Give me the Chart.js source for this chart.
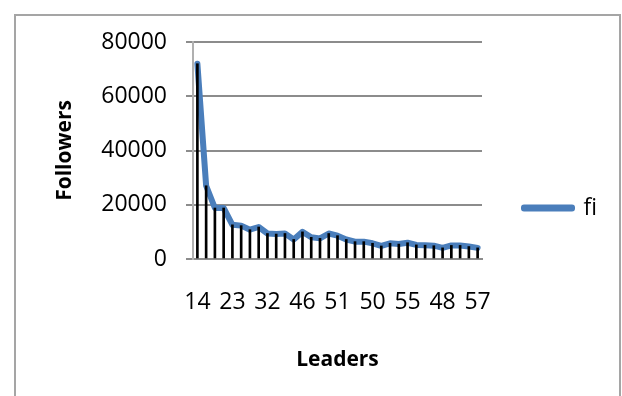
<!DOCTYPE html>
<html>
<head>
<meta charset="utf-8">
<script src="https://cdn.jsdelivr.net/npm/chart.js@4/dist/chart.umd.min.js"></script>
<style>
  html, body { margin: 0; padding: 0; background: #ffffff; }
  #wrap { position: relative; width: 622px; height: 396px; overflow: hidden; background: #ffffff; }
  #frame { position: absolute; left: 14px; top: 14px; width: 603px; height: 420px; border: 2px solid #a5a5a5; box-sizing: content-box; }
  #c { position: absolute; left: 0; top: 0; }
</style>
</head>
<body>
<div id="wrap">
  <div id="frame"></div>
  <canvas id="c" width="622" height="396"></canvas>
</div>
<script>
// Leader ids along the x axis (every fourth one is printed)
const leaders = [14, 9, 3, 27, 23, 19, 40, 12, 32, 5, 38, 21, 46, 30, 8, 44, 51, 17, 35, 26,
                 50, 42, 11, 33, 55, 29, 47, 6, 48, 39, 53, 24, 57];

// Follower count per leader (series "fi")
const fi = [72000, 27000, 18800, 18800, 12600, 12300, 10800, 11800, 9400, 9200,
            9400, 7200, 10000, 8000, 7600, 9400, 8600, 7200, 6400, 6400,
            5800, 4800, 5800, 5500, 6000, 5200, 5100, 4900, 4100, 5000,
            5000, 4600, 4100];

const yTicks = [0, 20000, 40000, 60000, 80000];

const seriesName = 'fi';
const xTitle = 'Leaders';
const yTitle = 'Followers';

const FONT = "'Open Sans', 'DejaVu Sans', sans-serif";
const BLUE = '#4a7ebb';
const GRID = '#8c8c8c';

// Fixed legend column on the right
const legendWidthPlugin = {
  id: 'legendWidth',
  beforeUpdate(chart) {
    const lg = chart.legend;
    if (lg && !lg._fixedWidth) {
      const fit = lg.fit;
      lg.fit = function () {
        fit.call(this);
        this.width = 140;
      };
      lg._fixedWidth = true;
    }
  }
};

new Chart(document.getElementById('c'), {
  data: {
    labels: leaders,
    datasets: [
      {
        type: 'bar',
        label: 'drop',
        data: fi,
        backgroundColor: '#000000',
        barThickness: 2,
        order: 0
      },
      {
        type: 'line',
        label: seriesName,
        data: fi,
        borderColor: BLUE,
        backgroundColor: BLUE,
        borderWidth: 6,
        borderCapStyle: 'round',
        borderJoinStyle: 'round',
        pointRadius: 0,
        tension: 0,
        fill: false,
        order: 1
      }
    ]
  },
  options: {
    responsive: false,
    animation: false,
    layout: { padding: { left: 0, right: 0, top: 42, bottom: 22 } },
    plugins: {
      tooltip: { enabled: false },
      legend: {
        position: 'right',
        labels: {
          filter: (item) => item.text === seriesName,
          boxWidth: 48,
          boxHeight: 1,
          padding: 42,
          color: '#000000',
          font: { family: FONT, size: 23 }
        }
      }
    },
    scales: {
      x: {
        type: 'category',
        offset: true,
        grid: { display: false },
        border: { display: true, color: GRID, width: 2 },
        ticks: {
          autoSkip: false,
          maxRotation: 0,
          minRotation: 0,
          padding: 22,
          color: '#000000',
          font: { family: FONT, size: 23 },
          callback: function (value, index) {
            return index % 4 === 0 ? this.getLabelForValue(value) : '';
          }
        },
        title: {
          display: true,
          text: xTitle,
          color: '#000000',
          font: { family: FONT, size: 21, weight: 'bold' },
          padding: { top: 0, bottom: 1 }
        },
        afterFit(scale) { scale.height = 115; }
      },
      y: {
        min: 0,
        max: 80000,
        afterBuildTicks(scale) { scale.ticks = yTicks.map(v => ({ value: v })); },
        grid: { color: GRID, lineWidth: 2, tickLength: 7 },
        border: { display: true, color: '#b0b0b0', width: 2 },
        ticks: {
          padding: 19,
          color: '#000000',
          font: { family: FONT, size: 23 },
          callback: (v) => String(v)
        },
        title: {
          display: true,
          text: yTitle,
          color: '#000000',
          font: { family: FONT, size: 21, weight: 'bold' },
          padding: { top: 52, bottom: 0 }
        },
        afterFit(scale) { scale.width = 193; }
      }
    }
  },
  plugins: [legendWidthPlugin]
});
</script>
</body>
</html>
